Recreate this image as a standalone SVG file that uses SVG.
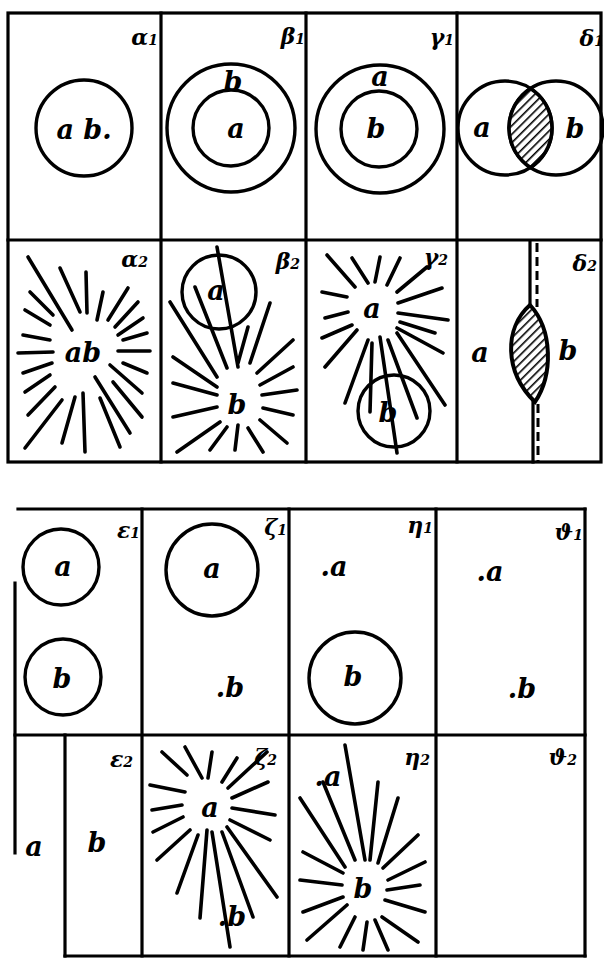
<svg xmlns="http://www.w3.org/2000/svg" width="604" height="958" viewBox="0 0 604 958">
<style>
.fr{fill:none;stroke:#000;stroke-width:3.2;stroke-linecap:square}
.c{fill:none;stroke:#000;stroke-width:3.4}
.r{stroke:#000;stroke-width:3.6;stroke-linecap:round;fill:none}
.t{font-family:"DejaVu Serif",serif;font-style:italic;font-weight:bold;font-size:27px;fill:#000}
.lb{font-family:"DejaVu Serif",serif;font-style:italic;font-weight:bold;font-size:22px;fill:#000;text-anchor:end}
.s{font-size:14px}
</style>
<defs>
<pattern id="hatch" width="6" height="6" patternUnits="userSpaceOnUse" patternTransform="rotate(45)">
<rect width="6" height="6" fill="#fff"/>
<line x1="0" y1="0" x2="0" y2="6" stroke="#000" stroke-width="3.2"/>
</pattern>
</defs>
<g id="frames">
<rect class="fr" x="8" y="13" width="593" height="449"/>
<line class="fr" x1="161" y1="13" x2="161" y2="462"/>
<line class="fr" x1="306" y1="13" x2="306" y2="462"/>
<line class="fr" x1="457" y1="13" x2="457" y2="462"/>
<line class="fr" x1="8" y1="240" x2="601" y2="240"/>
<line class="fr" x1="18" y1="509" x2="585" y2="509"/>
<line class="fr" x1="585" y1="509" x2="585" y2="956"/>
<line class="fr" x1="142" y1="509" x2="142" y2="956"/>
<line class="fr" x1="289" y1="509" x2="289" y2="956"/>
<line class="fr" x1="436" y1="509" x2="436" y2="956"/>
<line class="fr" x1="15" y1="735" x2="585" y2="735"/>
<line class="fr" x1="15" y1="583" x2="15" y2="853"/>
<line class="fr" x1="65" y1="735" x2="65" y2="956"/>
<line class="fr" x1="65" y1="956" x2="585" y2="956"/>
</g>
<g id="alpha1">
<circle class="c" cx="84" cy="128" r="48"/>
<text class="t" x="84" y="139" text-anchor="middle" font-size="30">a b.</text>
<text class="lb" x="158" y="45">α<tspan class="s">1</tspan></text>
</g>
<g id="beta1">
<circle class="c" cx="231" cy="128" r="64"/>
<circle class="c" cx="231" cy="128" r="38"/>
<text class="t" x="233" y="91" text-anchor="middle" font-size="20">b</text>
<text class="t" x="236" y="138" text-anchor="middle">a</text>
<text class="lb" x="305" y="44">β<tspan class="s">1</tspan></text>
</g>
<g id="gamma1">
<circle class="c" cx="380" cy="129" r="64"/>
<circle class="c" cx="379" cy="129" r="38"/>
<text class="t" x="380" y="86" text-anchor="middle" font-size="21">a</text>
<text class="t" x="376" y="138" text-anchor="middle">b</text>
<text class="lb" x="454" y="45">γ<tspan class="s">1</tspan></text>
</g>
<g id="delta1">
<circle class="c" cx="505" cy="128" r="47"/>
<circle class="c" cx="556" cy="128" r="47"/>
<path d="M530.5,88.5 A47,47 0 0 1 530.5,167.5 A47,47 0 0 1 530.5,88.5 Z" fill="url(#hatch)" stroke="#000" stroke-width="3.6"/>
<text class="t" x="482" y="137" text-anchor="middle">a</text>
<text class="t" x="575" y="138" text-anchor="middle">b</text>
<text class="lb" x="604" y="46">δ<tspan class="s">1</tspan></text>
</g>
<g id="alpha2">
<path class="r" d="M28,257L72,330M60,268L80,312M86,272L87,313M30,292L53,315M25,310L50,325M103,292L97,320M128,288L108,320M138,302L115,327M143,318L118,335M147,333L123,340M23,335L50,340M18,353L53,352M118,351L150,351M23,373L52,363M123,363L147,373M25,392L50,375M110,365L142,393M28,415L55,387M25,448L62,400M62,443L75,397M83,393L85,452M95,377L130,433M100,398L120,447M113,382L142,417"/>
<text class="t" x="83" y="362" text-anchor="middle" font-size="30">ab</text>
<text class="lb" x="148" y="267">α<tspan class="s" font-size="18">2</tspan></text>
</g>
<g id="beta2">
<circle class="c" cx="219" cy="292" r="37" stroke-width="4.2"/>
<path class="r" d="M217,247L238,367M195,287L227,368M248,327L238,363M170,302L217,377M270,303L250,363M173,357L217,387M173,383L217,395M173,417L217,407M177,452L220,422M210,450L227,427M235,450L238,425M248,428L263,452M260,420L287,443M263,408L293,415M262,395L297,390M260,385L293,367M257,373L293,340"/>
<text class="t" x="216" y="300" text-anchor="middle" font-size="24">a</text>
<text class="t" x="237" y="414" text-anchor="middle" font-size="32">b</text>
<text class="lb" x="300" y="269">β<tspan class="s" font-size="18">2</tspan></text>
</g>
<g id="gamma2">
<circle class="c" cx="394" cy="411" r="36" stroke-width="4.2"/>
<path class="r" d="M327,255L355,287M352,258L368,283M380,257L375,282M400,258L387,285M427,267L397,292M322,292L347,297M442,288L398,303M325,318L348,312M398,313L448,320M322,338L352,325M400,322L435,333M325,367L357,330M397,328L443,353M345,403L368,340M372,343L370,412M380,337L397,453M388,340L417,418M397,333L445,405"/>
<text class="t" x="372" y="318" text-anchor="middle" font-size="30">a</text>
<text class="t" x="388" y="422" text-anchor="middle">b</text>
<text class="lb" x="448" y="265">γ<tspan class="s" font-size="18">2</tspan></text>
</g>
<g id="delta2">
<line class="fr" x1="530" y1="241" x2="530" y2="307"/>
<line class="fr" x1="533" y1="400" x2="533" y2="462"/>
<line x1="537" y1="243" x2="537" y2="307" stroke="#000" stroke-width="3" stroke-dasharray="9,5"/>
<line x1="538" y1="404" x2="538" y2="462" stroke="#000" stroke-width="3" stroke-dasharray="9,5"/>
<path d="M530,305 C504,328 504,372 535,402 C553,375 553,330 530,305 Z" fill="url(#hatch)" stroke="#000" stroke-width="4"/>
<text class="t" x="480" y="362" text-anchor="middle">a</text>
<text class="t" x="568" y="360" text-anchor="middle">b</text>
<text class="lb" x="597" y="271">δ<tspan class="s" font-size="18">2</tspan></text>
</g>
<g id="epsilon1">
<circle class="c" cx="61" cy="567" r="38"/>
<circle class="c" cx="63" cy="677" r="38"/>
<text class="t" x="63" y="576" text-anchor="middle" font-size="24">a</text>
<text class="t" x="62" y="688" text-anchor="middle">b</text>
<text class="lb" x="140" y="538" font-size="20">ε<tspan class="s">1</tspan></text>
</g>
<g id="zeta1">
<circle class="c" cx="212" cy="570" r="46"/>
<text class="t" x="212" y="578" text-anchor="middle">a</text>
<text class="t" x="230" y="697" text-anchor="middle">.b</text>
<text class="lb" x="287" y="535" font-size="20">ζ<tspan class="s">1</tspan></text>
</g>
<g id="eta1">
<circle class="c" cx="355" cy="678" r="46"/>
<text class="t" x="334" y="576" text-anchor="middle">.a</text>
<text class="t" x="353" y="686" text-anchor="middle">b</text>
<text class="lb" x="433" y="533" font-size="20">η<tspan class="s">1</tspan></text>
</g>
<g id="theta1">
<text class="t" x="490" y="581" text-anchor="middle">.a</text>
<text class="t" x="522" y="698" text-anchor="middle">.b</text>
<text class="lb" x="583" y="540" font-size="20">ϑ<tspan class="s">1</tspan></text>
</g>
<g id="epsilon2">
<text class="t" x="34" y="856" text-anchor="middle">a</text>
<text class="t" x="97" y="852" text-anchor="middle">b</text>
<text class="lb" x="133" y="767">ε<tspan class="s" font-size="18">2</tspan></text>
</g>
<g id="zeta2">
<path class="r" d="M162,752L187,775M185,747L202,778M212,752L208,778M237,758L222,782M267,752L228,788M150,785L185,792M268,782L232,798M152,810L182,805M232,808L275,815M153,832L183,817M230,820L270,840M157,860L190,830M227,827L277,897M177,893L198,835M207,830L200,918M212,832L230,947M222,832L253,917"/>
<text class="t" x="210" y="817" text-anchor="middle" font-size="30">a</text>
<text class="t" x="232" y="926" text-anchor="middle">.b</text>
<text class="lb" x="277" y="765">ζ<tspan class="s" font-size="18">2</tspan></text>
</g>
<g id="eta2">
<path class="r" d="M345,745L365,860M323,782L355,860M378,782L370,860M398,798L378,863M418,835L383,868M425,862L388,880M420,885L387,890M425,912L385,900M418,942L382,917M388,950L375,920M363,950L367,922M340,947L355,917M307,940L347,905M303,912L343,897M300,880L342,885M303,852L343,873M300,798L345,867"/>
<text class="t" x="363" y="898" text-anchor="middle" font-size="34">b</text>
<text class="t" x="328" y="786" text-anchor="middle" font-size="24">.a</text>
<text class="lb" x="430" y="765">η<tspan class="s" font-size="18">2</tspan></text>
</g>
<g id="theta2">
<text class="lb" x="577" y="765">ϑ<tspan class="s" font-size="18">2</tspan></text>
</g>
</svg>
